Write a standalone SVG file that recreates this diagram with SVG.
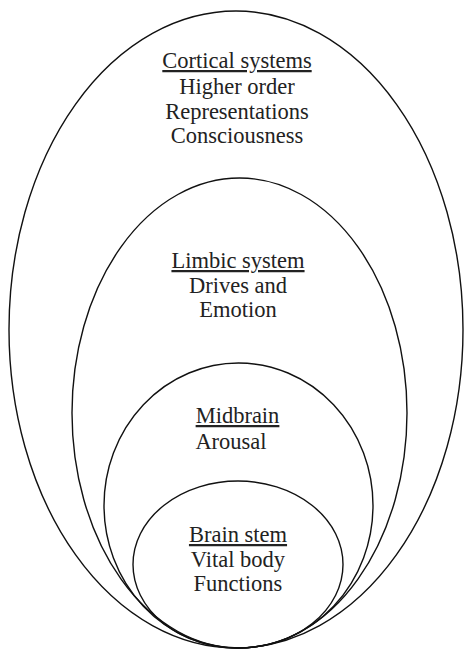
<svg xmlns="http://www.w3.org/2000/svg" width="465" height="650" viewBox="0 0 465 650">
<style>
.ring{fill:none;stroke:#111;stroke-width:1.4}
.t{font-family:"Liberation Serif","Times New Roman",serif;font-size:22.5px;fill:#222;text-anchor:middle}
.u{text-decoration:underline}
</style>
<rect width="465" height="650" fill="#fff"/>
<g id="cortical">
<ellipse class="ring" cx="236" cy="329.5" rx="227" ry="318.5"/>
<text class="t" x="237" y="68"><tspan class="u">Cortical systems</tspan></text>
<text class="t" x="237" y="94">Higher order</text>
<text class="t" x="237" y="119">Representations</text>
<text class="t" x="237" y="143">Consciousness</text>
</g>
<g id="limbic">
<ellipse class="ring" cx="239.5" cy="413" rx="167.5" ry="235"/>
<text class="t" x="238" y="268"><tspan class="u">Limbic system</tspan></text>
<text class="t" x="238" y="293">Drives and</text>
<text class="t" x="238" y="317">Emotion</text>
</g>
<g id="midbrain">
<ellipse class="ring" cx="238.5" cy="505.5" rx="134.5" ry="142.5"/>
<text class="t" x="237.5" y="423"><tspan class="u">Midbrain</tspan></text>
<text class="t" x="231" y="449">Arousal</text>
</g>
<g id="brainstem">
<ellipse class="ring" cx="238" cy="564.5" rx="105" ry="83.5"/>
<text class="t" x="238" y="542"><tspan class="u">Brain stem</tspan></text>
<text class="t" x="238" y="567">Vital body</text>
<text class="t" x="238" y="591">Functions</text>
</g>
<g id="connectors"/>
</svg>
